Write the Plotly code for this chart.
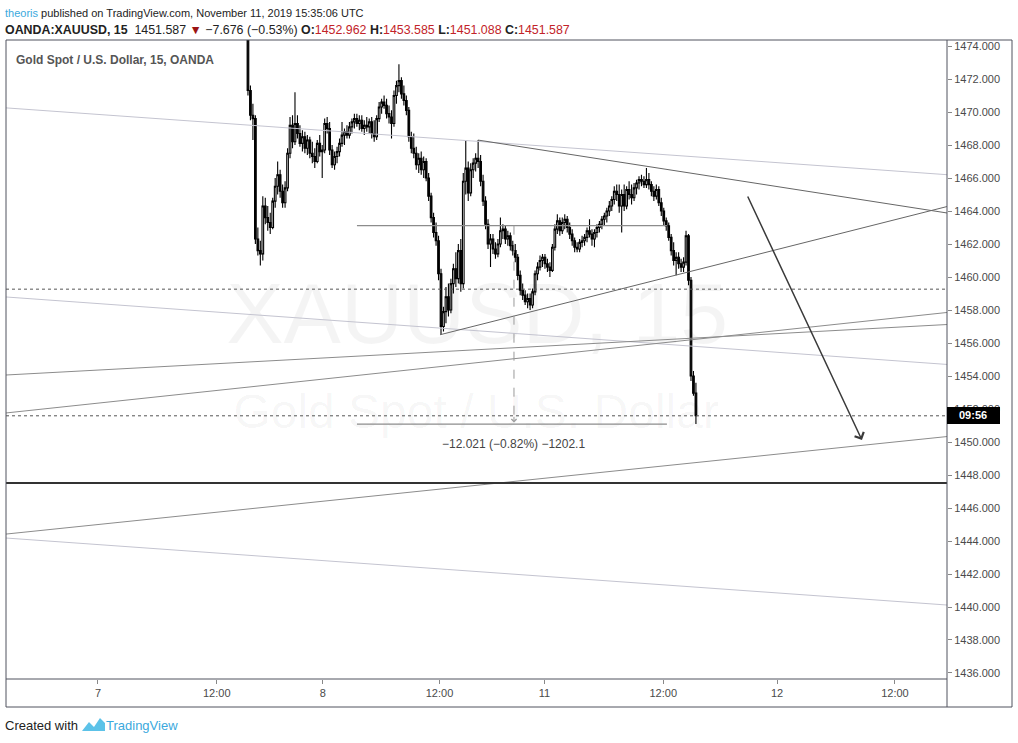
import plotly.graph_objects as go

# 15-minute XAUUSD bars, x = trading hours counted from Nov 7 00:00 (gaps removed)
BAR_START = 15.15
BAR_STEP = 0.25
FIRST_OPEN = 1476.0
PREV_CLOSE = 1459.263

highs = [
    1476.5, 1471.6, 1470.5, 1469.8, 1463.0, 1462.2, 1464.9, 1464.8, 1464.3, 1463.9,
    1464.8, 1466.0, 1467.0, 1466.5, 1465.6, 1465.8, 1467.8, 1469.7, 1469.8, 1471.2,
    1469.8, 1469.2, 1468.9, 1468.8, 1468.6, 1468.5, 1468.2, 1467.8, 1468.3, 1468.6,
    1468.0, 1469.6, 1469.7, 1469.4, 1468.0, 1467.6, 1467.9, 1468.4, 1469.4, 1469.0,
    1469.2, 1469.4, 1469.6, 1469.9, 1469.9, 1469.8, 1469.8, 1469.5, 1469.7, 1469.6,
    1469.7, 1469.5, 1469.8, 1470.6, 1470.8, 1471.0, 1470.8, 1470.4, 1470.1, 1471.3,
    1471.9, 1472.9, 1472.1, 1471.6, 1471.0, 1470.3, 1468.8, 1468.7, 1467.9, 1467.5,
    1467.6, 1467.3, 1467.2, 1466.3, 1465.1, 1463.9, 1463.3, 1462.5, 1460.5, 1458.2,
    1459.4, 1459.6, 1459.9, 1460.8, 1461.5, 1462.0, 1462.3, 1466.3, 1468.3, 1467.0,
    1466.9, 1467.2, 1467.5, 1468.3, 1467.4, 1466.2, 1464.9, 1463.5, 1462.6, 1462.6,
    1462.1, 1462.3, 1463.6, 1463.2, 1463.1, 1462.8, 1462.7, 1462.2, 1462.0, 1461.4,
    1460.4, 1459.6, 1459.2, 1459.0, 1459.0, 1459.3, 1460.4, 1460.9, 1461.3, 1461.4,
    1461.4, 1461.1, 1460.9, 1462.0, 1463.2, 1463.8, 1463.6, 1463.6, 1463.8, 1463.7,
    1463.3, 1462.9, 1462.4, 1462.1, 1462.3, 1462.5, 1462.6, 1463.0, 1463.5, 1462.9,
    1462.9, 1463.2, 1463.4, 1463.7, 1463.9, 1464.2, 1464.6, 1464.9, 1465.5, 1465.6,
    1465.6, 1465.3, 1465.6, 1465.5, 1465.8, 1465.6, 1465.7, 1465.9, 1466.1, 1466.2,
    1466.1, 1466.6, 1466.3, 1465.8, 1465.5, 1465.6, 1465.5, 1464.8, 1464.2, 1463.6,
    1463.3, 1462.6, 1462.1, 1461.5, 1461.5, 1461.1, 1461.2, 1462.8, 1462.6, 1460.0,
    1454.3, 1453.585,
]
lows = [
    1471.0, 1469.5, 1468.3, 1462.0, 1461.3, 1460.7, 1461.0, 1463.2, 1462.8, 1462.6,
    1462.9, 1464.2, 1465.0, 1464.8, 1464.2, 1464.2, 1465.2, 1467.2, 1467.8, 1468.0,
    1468.4, 1467.9, 1467.6, 1467.5, 1467.4, 1467.2, 1466.9, 1466.6, 1466.9, 1467.3,
    1466.0, 1467.5, 1468.7, 1467.4, 1466.6, 1466.5, 1466.9, 1467.3, 1467.9, 1468.0,
    1468.4, 1468.4, 1468.7, 1469.0, 1469.1, 1468.9, 1468.8, 1468.6, 1468.8, 1468.7,
    1468.4, 1468.2, 1468.3, 1469.4, 1469.9, 1470.2, 1469.6, 1469.3, 1468.4, 1469.1,
    1470.5, 1471.2, 1470.8, 1470.4, 1469.8, 1468.2, 1467.5, 1467.2, 1466.5, 1466.3,
    1466.2, 1466.0, 1465.8, 1464.6, 1463.3, 1462.4, 1461.9, 1459.8, 1456.5, 1456.7,
    1457.2, 1457.6, 1457.8, 1459.0, 1459.4, 1459.6, 1459.1, 1459.3, 1465.0, 1464.6,
    1464.9, 1466.0, 1466.4, 1466.6, 1465.5, 1464.3, 1462.9, 1461.7, 1460.6, 1461.4,
    1461.1, 1461.2, 1461.8, 1462.3, 1462.0, 1461.9, 1461.6, 1461.3, 1460.9, 1459.8,
    1458.9, 1458.6, 1458.3, 1458.1, 1458.0, 1458.1, 1458.9, 1459.8, 1460.4, 1460.6,
    1460.5, 1460.3, 1460.0, 1460.3, 1461.6, 1462.6, 1462.5, 1462.6, 1462.9, 1462.7,
    1462.3, 1461.9, 1461.5, 1461.5, 1461.5, 1461.8, 1461.9, 1462.1, 1462.4, 1461.9,
    1461.8, 1462.4, 1462.7, 1462.9, 1463.1, 1463.3, 1463.7, 1464.0, 1464.4, 1464.6,
    1463.9, 1462.7, 1464.0, 1464.1, 1464.7, 1464.4, 1464.6, 1465.0, 1465.3, 1465.5,
    1465.4, 1465.4, 1465.3, 1464.9, 1464.6, 1464.7, 1464.3, 1463.7, 1463.1, 1462.8,
    1462.2, 1461.3, 1460.7, 1460.1, 1460.5, 1460.3, 1460.3, 1460.7, 1459.5, 1453.7,
    1452.8, 1451.088,
]
closes = [
    1471.3, 1469.8, 1469.6, 1462.3, 1461.6, 1461.4, 1464.3, 1463.6, 1463.3, 1463.0,
    1464.6, 1465.5, 1466.2, 1465.2, 1464.5, 1465.4, 1467.5, 1469.2, 1468.2, 1469.3,
    1468.7, 1468.1, 1468.5, 1467.8, 1468.3, 1467.5, 1467.3, 1467.0, 1468.1, 1467.6,
    1467.7, 1469.3, 1469.0, 1467.7, 1466.8, 1467.3, 1467.6, 1468.1, 1468.6, 1468.8,
    1468.6, 1469.1, 1469.4, 1469.6, 1469.3, 1469.5, 1469.0, 1469.2, 1469.1, 1469.4,
    1468.7, 1468.5, 1469.6, 1470.3, 1470.6, 1470.4, 1469.9, 1469.7, 1469.3, 1471.0,
    1471.6, 1471.9, 1471.1, 1470.7, 1470.1, 1468.5, 1467.8, 1467.5, 1466.8, 1467.2,
    1466.5, 1467.0, 1466.0, 1464.9, 1463.6, 1462.7, 1462.2, 1460.2, 1457.0, 1457.9,
    1458.8, 1458.0, 1459.6, 1460.5, 1459.9, 1461.6, 1459.6, 1465.8, 1466.6, 1465.1,
    1466.5, 1466.9, 1467.2, 1467.0, 1465.8, 1464.6, 1463.2, 1462.0, 1462.3, 1461.7,
    1461.4, 1462.0, 1462.8, 1462.9, 1462.3, 1462.5, 1461.9, 1461.6, 1461.2, 1460.1,
    1459.2, 1458.9, 1458.5, 1458.7, 1458.3, 1459.1, 1460.2, 1460.6, 1461.0, 1461.2,
    1460.8, 1460.6, 1460.4, 1461.8, 1462.9, 1463.4, 1462.8, 1463.3, 1463.5, 1463.0,
    1462.6, 1462.2, 1461.8, 1461.7, 1462.1, 1462.2, 1462.4, 1462.8, 1462.6, 1462.3,
    1462.7, 1463.0, 1463.2, 1463.5, 1463.7, 1464.0, 1464.3, 1464.7, 1465.2, 1465.0,
    1464.3, 1465.0, 1464.3, 1465.3, 1465.0, 1464.8, 1465.4, 1465.7, 1465.9, 1465.8,
    1465.6, 1465.9, 1465.6, 1465.2, 1464.9, 1465.3, 1464.5, 1464.0, 1463.4, 1463.1,
    1462.4, 1461.6, 1461.0, 1461.2, 1460.8, 1460.6, 1460.9, 1462.5, 1459.8, 1454.0,
    1452.962, 1451.587,
]

tick_hours = [0, 12.0, 22.7, 34.5, 45.1, 57.1, 68.6, 80.5]
tick_labels = ["7", "12:00", "8", "12:00", "11", "12:00", "12", "12:00"]
price_ticks = list(range(1436, 1476, 2))

X_MIN, X_MAX = -9.29, 85.76
Y_MIN, Y_MAX = 1435.636, 1474.364

# drawings: ((hour, price), (hour, price))
light_lines = [
    ((X_MIN, 1470.25), (X_MAX, 1466.20)),
    ((X_MIN, 1458.79), (X_MAX, 1454.70)),
    ((X_MIN, 1444.18), (X_MAX, 1440.12)),
]
mid_lines = [
    ((X_MIN, 1454.06), (X_MAX, 1457.12)),
    ((X_MIN, 1451.76), (X_MAX, 1457.85)),
    ((X_MIN, 1444.42), (X_MAX, 1450.33)),
]
triangle_lines = [
    ((38.38, 1468.30), (X_MAX, 1463.88)),
    ((34.55, 1456.50), (X_MAX, 1464.27)),
]
support_level = 1447.52
arrow_start = (65.56, 1464.97)
arrow_end = (77.17, 1450.12)
measure_x = (26.16, 57.47)
measure_mid = 42.02
measure_top, measure_bottom = 1463.109, 1451.088

# pixel frame of the chart pane
W, H = 1018, 743
PL, PR, PT, PB = 6, 947, 40, 679


def px(x):
    return (x - PL) / (PR - PL)


def py(y):
    return (PB - y) / (PB - PT)


opens = [FIRST_OPEN] + closes[:-1]
times = [BAR_START + BAR_STEP * i for i in range(len(closes))]

fig = go.Figure()

# watermark below the candles
fig.add_trace(go.Scatter(
    x=[38.3], y=[1457.3], mode="text", text=["XAUUSD, 15"],
    textfont=dict(family="Liberation Sans, sans-serif", size=86, color="rgba(0,0,0,0.045)"),
    hoverinfo="skip", showlegend=False,
))
fig.add_trace(go.Scatter(
    x=[38.2], y=[1451.55], mode="text", text=["Gold Spot / U.S. Dollar"],
    textfont=dict(family="Liberation Sans, sans-serif", size=48, color="rgba(0,0,0,0.045)"),
    hoverinfo="skip", showlegend=False,
))

fig.add_trace(go.Candlestick(
    x=times, open=opens, high=highs, low=lows, close=closes,
    increasing=dict(line=dict(color="#000000", width=1.1), fillcolor="#ffffff"),
    decreasing=dict(line=dict(color="#000000", width=1.1), fillcolor="#000000"),
    whiskerwidth=0, hoverinfo="skip", showlegend=False,
))

shapes = []


def seg(p0, p1, color, width=1, dash="solid"):
    shapes.append(dict(type="line", xref="x", yref="y", x0=p0[0], y0=p0[1], x1=p1[0], y1=p1[1],
                       line=dict(color=color, width=width, dash=dash), layer="above"))


for a, b in light_lines:
    seg(a, b, "#c4c4d0")
for a, b in mid_lines:
    seg(a, b, "#8c8c8c")
for a, b in triangle_lines:
    seg(a, b, "#666666")
seg((X_MIN, support_level), (X_MAX, support_level), "#333333", 2)
seg((X_MIN, PREV_CLOSE), (X_MAX, PREV_CLOSE), "#555555", 1, "dot")
seg((X_MIN, closes[-1]), (X_MAX, closes[-1]), "#555555", 1, "dot")
seg((measure_x[0], measure_top), (measure_x[1], measure_top), "#8c8c8c", 1.2)
seg((measure_x[0], measure_bottom), (measure_x[1], measure_bottom), "#8c8c8c", 1.2)
seg((measure_mid, measure_top), (measure_mid, measure_bottom + 0.15), "#9a9a9a", 1, "dash")

# pane frame
frame = "#50535e"
shapes += [
    dict(type="rect", xref="paper", yref="paper", x0=0, y0=py(707), x1=px(1012), y1=1,
         line=dict(color=frame, width=1)),
    dict(type="line", xref="paper", yref="paper", x0=1, y0=py(707), x1=1, y1=1,
         line=dict(color=frame, width=1)),
    dict(type="line", xref="paper", yref="paper", x0=0, y0=0, x1=1, y1=0,
         line=dict(color=frame, width=1)),
    # countdown label on the price scale
    dict(type="rect", xref="paper", yref="paper", x0=px(947), y0=py(424), x1=px(1000), y1=py(407),
         fillcolor="#000000", line=dict(width=0), layer="above"),
]

# TradingView logo
logo = [(82, 731), (89, 722), (94, 727), (100, 718), (105, 723), (105, 731)]
path = "M " + " L ".join(f"{px(x):.5f},{py(y):.5f}" for x, y in logo) + " Z"
shapes.append(dict(type="path", xref="paper", yref="paper", path=path,
                   fillcolor="#5cc2e8", line=dict(width=0)))

up = "#c22329"
o, h, l, c = opens[-1], highs[-1], lows[-1], closes[-1]
chg = c - PREV_CLOSE
head2 = (
    f"<b>OANDA:XAUUSD, 15</b>  {c:.3f} <span style='color:#9b1414'>▼</span> "
    f"−{abs(chg):.3f} (−{abs(chg) / PREV_CLOSE * 100:.2f}%) "
    f"<b>O:</b><span style='color:{up}'>{o:.3f}</span> "
    f"<b>H:</b><span style='color:{up}'>{h:.3f}</span> "
    f"<b>L:</b><span style='color:{up}'>{l:.3f}</span> "
    f"<b>C:</b><span style='color:{up}'>{c:.3f}</span>"
)
diff = measure_bottom - measure_top
measure_text = (f"−{abs(diff):.3f} (−{abs(diff) / measure_top * 100:.2f}%) "
                f"−{abs(diff) * 100:.1f}")

hfont = "Liberation Sans, sans-serif"
annotations = [
    dict(xref="paper", yref="paper", x=px(3), y=py(13), xanchor="left", yanchor="middle",
         showarrow=False, font=dict(family=hfont, size=11, color="#222222"),
         text="<span style='color:#3ba9dd'>theoris</span> published on TradingView.com, "
              "November 11, 2019 15:35:06 UTC"),
    dict(xref="paper", yref="paper", x=px(3), y=py(30), xanchor="left", yanchor="middle",
         showarrow=False, font=dict(family=hfont, size=12.4, color="#222222"), text=head2),
    dict(xref="paper", yref="paper", x=px(14), y=py(60), xanchor="left", yanchor="middle",
         showarrow=False, font=dict(family=hfont, size=12, color="#555555"),
         text="<b>Gold Spot / U.S. Dollar, 15, OANDA</b>"),
    dict(xref="paper", yref="paper", x=px(3), y=py(725), xanchor="left", yanchor="middle",
         showarrow=False, font=dict(family=hfont, size=13, color="#222222"), text="Created with"),
    dict(xref="paper", yref="paper", x=px(104), y=py(725), xanchor="left", yanchor="middle",
         showarrow=False, font=dict(family=hfont, size=13, color="#3ba9dd"), text="TradingView"),
    dict(xref="paper", yref="paper", x=px(973.5), y=py(415.5), xanchor="center", yanchor="middle",
         showarrow=False, font=dict(family=hfont, size=11, color="#ffffff"),
         text="<b>09:56</b>"),
    dict(x=measure_mid, y=1449.9, xref="x", yref="y", showarrow=False, text=measure_text,
         font=dict(family=hfont, size=12, color="#444444")),
    dict(x=measure_mid, y=measure_bottom + 0.1, xref="x", yref="y", ax=0, ay=-7, text="",
         showarrow=True, arrowhead=4, arrowsize=1, arrowwidth=1, arrowcolor="#9a9a9a"),
    dict(x=arrow_end[0], y=arrow_end[1], ax=arrow_start[0], ay=arrow_start[1],
         xref="x", yref="y", axref="x", ayref="y", text="", showarrow=True,
         arrowhead=4, arrowsize=1.3, arrowwidth=1.5, arrowcolor="#3a3a3a"),
]

fig.update_layout(
    width=W, height=H,
    margin=dict(l=PL, r=W - PR, t=PT, b=H - PB),
    paper_bgcolor="#ffffff", plot_bgcolor="#ffffff",
    font=dict(family="Liberation Sans, Arial, sans-serif", size=11, color="#4a4a4a"),
    shapes=shapes, annotations=annotations,
    showlegend=False,
    boxgap=0.05,
)
fig.update_xaxes(
    range=[X_MIN, X_MAX], tickvals=tick_hours, ticktext=tick_labels,
    ticks="outside", ticklen=4, tickcolor="#888888", showgrid=False, zeroline=False,
    showline=False, rangeslider=dict(visible=False), fixedrange=True,
    tickfont=dict(size=11, color="#4a4a4a"),
)
fig.update_yaxes(
    range=[Y_MIN, Y_MAX], side="right", tickvals=price_ticks,
    ticktext=[f"{v:.3f}" for v in price_ticks],
    ticks="outside", ticklen=4, tickcolor="#888888", showgrid=False, zeroline=False,
    showline=False, fixedrange=True, tickfont=dict(size=11, color="#4a4a4a"),
)

fig.write_html("out.html", config={"displayModeBar": False},
               post_script="document.body.style.margin='0';document.body.style.overflow='hidden';")
